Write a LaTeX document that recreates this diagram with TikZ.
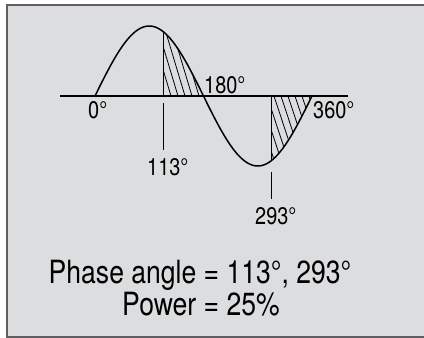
\documentclass[tikz,border=0pt]{standalone}
\usepackage{fontspec}
\setmainfont{TeX Gyre Heros}[FakeStretch=0.83]
\usetikzlibrary{positioning}
\definecolor{panelgray}{RGB}{220,221,223}
\definecolor{framegray}{RGB}{95,95,97}

\begin{document}
\begin{tikzpicture}[x=1pt, y=-1pt,
    wave/.style={line width=1.5pt, black, line join=round},
    axisline/.style={line width=1.3pt, black},
    hatch/.style={line width=0.8pt, black},
    marker/.style={line width=1.2pt, black},
    deg/.style={font=\fontsize{24}{26}\selectfont, inner sep=0pt, anchor=base west},
    caption/.style={font=\fontsize{32}{34}\selectfont, inner sep=0pt, anchor=base}
  ]
    \useasboundingbox (0,0) rectangle (424,338);
    \fill[white] (0,0) rectangle (424,338);
    \fill[panelgray] (7,5) rectangle (424,337);
    \draw[framegray, line width=1.6pt] (424,5) -- (7,5) -- (7,337) -- (424,337);

    % hatched parts
    \begin{scope}
      \clip ({95+113*0.60278},96) -- plot[domain=113:180, samples=30] ({95+\x*0.60278}, {96-70*sin(\x)}) -- cycle;
      \foreach \k in {0,...,8}
        \draw[hatch] ({171+7*\k-0.3*76},20) -- ({171+7*\k+0.3*80},176);
    \end{scope}
    \begin{scope}
      \clip ({95+293*0.60278},96) -- plot[domain=293:360, samples=30] ({95+\x*0.60278}, {96-70*sin(\x)}) -- cycle;
      \foreach \k in {0,...,8}
        \draw[hatch] ({253+7*\k-0.33*76},20) -- ({253+7*\k+0.33*80},176);
    \end{scope}
    \draw[line width=1pt] ({95+113*0.60278},96) -- ({95+113*0.60278},{96-70*sin(113)});
    \draw[line width=1pt] ({95+293*0.60278},96) -- ({95+293*0.60278},{96-70*sin(293)});

    % axis and wave
    \coordinate (axl) at (60,96);
    \coordinate (axr) at (348,96);
    \draw[axisline] (axl) -- (axr);
    \draw[wave] plot[domain=0:360, samples=120, smooth] ({95+\x*0.60278}, {96-70*sin(\x)});

    % markers
    \coordinate (m113a) at ({95+113*0.60278},103);
    \coordinate (m113b) at ({95+113*0.60278},150);
    \coordinate (m293a) at ({95+293*0.60278},172);
    \coordinate (m293b) at ({95+293*0.60278},199);
    \draw[marker] (m113a) -- (m113b);
    \draw[marker] (m293a) -- (m293b);

    \node[deg] (d0) at (88,118) {0°};
    \node[deg] (d180) at (204,93) {180°};
    \node[deg] (d360) at (313,118) {360°};
    \node[deg] (d113) at (147,175) {113°};
    \node[deg] (d293) at (255,224) {293°};

    \node[caption] (phase) at (200,283) {Phase angle = 113°, 293°};
    \node[caption] (power) at (201,315) {Power = 25\%};
  \end{tikzpicture}
\end{document}
